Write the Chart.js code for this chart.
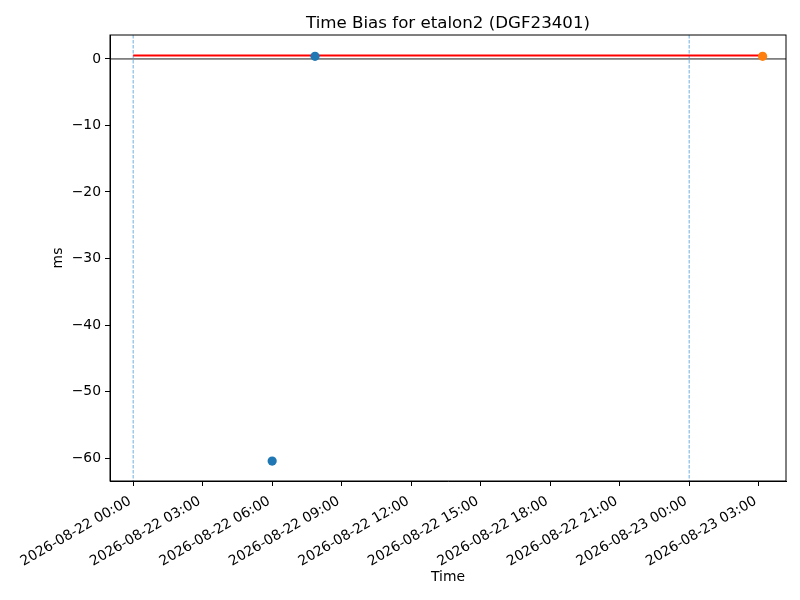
<!DOCTYPE html>
<html>
<head>
<meta charset="utf-8">
<script src="https://cdn.jsdelivr.net/npm/chart.js@4"></script>
<style>
  html, body { margin: 0; padding: 0; background: #fff; }
  #wrap { width: 800px; height: 600px; }
</style>
</head>
<body>
<div id="wrap"><canvas id="myChart" width="800" height="600"></canvas></div>
<script>
// hours since 2026-08-22 00:00
const tickHours = [0, 3, 6, 9, 12, 15, 18, 21, 24, 27];
const tickLabels = ["2026-08-22 00:00", "2026-08-22 03:00", "2026-08-22 06:00", "2026-08-22 09:00",
  "2026-08-22 12:00", "2026-08-22 15:00", "2026-08-22 18:00", "2026-08-22 21:00",
  "2026-08-23 00:00", "2026-08-23 03:00"];
const yTicks = [-60, -50, -40, -30, -20, -10, 0];

const blueHours = [6.0, 7.85];
const blueValues = [-60.45, 0.4];
const orangeHours = [27.17];
const orangeValues = [0.4];
const meanHours = [0, 27.17];
const meanValues = [0.5, 0.5];
const dayLines = [0, 24];

const xRange = [-1.0, 28.18];
const yRange = [-63.45, 3.6];

const font = "'DejaVu Sans', sans-serif";

function pts(xs, ys) {
  return xs.map((x, i) => ({ x: x, y: ys[i] }));
}

// axhline at 0 and dashed day boundaries, title centred over the plot area
const refLines = {
  id: "refLines",
  afterLayout(chart) {
    const t = chart.titleBlock;
    if (t) {
      t.left = chart.chartArea.left;
      t.right = chart.chartArea.right;
      t.width = t.right - t.left;
    }
  },
  beforeDatasetsDraw(chart) {
    const { ctx, chartArea, scales } = chart;
    ctx.save();
    ctx.strokeStyle = "#000";
    ctx.lineWidth = 0.9;
    const y0 = scales.y.getPixelForValue(0);
    ctx.beginPath();
    ctx.moveTo(chartArea.left, y0);
    ctx.lineTo(chartArea.right, y0);
    ctx.stroke();

    ctx.strokeStyle = "#4a9ad6";
    ctx.lineWidth = 0.8;
    ctx.setLineDash([3.5, 1.5]);
    dayLines.forEach(h => {
      const x = scales.x.getPixelForValue(h);
      ctx.beginPath();
      ctx.moveTo(x, chartArea.top);
      ctx.lineTo(x, chartArea.bottom);
      ctx.stroke();
    });
    ctx.restore();
  },
  afterDraw(chart) {
    const { ctx, chartArea } = chart;
    ctx.save();
    ctx.strokeStyle = "#000";
    ctx.lineWidth = 1;
    ctx.strokeRect(chartArea.left, chartArea.top, chartArea.right - chartArea.left, chartArea.bottom - chartArea.top);
    ctx.restore();
  }
};

const ctx = document.getElementById("myChart");

new Chart(ctx, {
  type: "scatter",
  data: {
    datasets: [
      {
        type: "line",
        data: pts(meanHours, meanValues),
        borderColor: "#ff0000",
        borderWidth: 2,
        pointRadius: 0,
        order: 3
      },
      {
        data: pts(blueHours, blueValues),
        backgroundColor: "#1f77b4",
        borderWidth: 0,
        pointRadius: 4.6,
        order: 2
      },
      {
        data: pts(orangeHours, orangeValues),
        backgroundColor: "#ff7f0e",
        borderWidth: 0,
        pointRadius: 4.6,
        order: 1
      }
    ]
  },
  options: {
    responsive: false,
    animation: false,
    layout: { padding: { left: 0, right: 14, top: 0, bottom: 0 } },
    plugins: {
      legend: { display: false },
      tooltip: { enabled: false },
      title: {
        display: true,
        text: "Time Bias for etalon2 (DGF23401)",
        color: "#000",
        font: { family: font, size: 16.67, weight: "normal" },
        padding: { top: 14, bottom: 1 }
      }
    },
    scales: {
      x: {
        type: "linear",
        min: xRange[0],
        max: xRange[1],
        afterBuildTicks: s => { s.ticks = tickHours.map(v => ({ value: v })); },
        afterFit: s => { s.height = 119; s.paddingLeft = 0; s.paddingRight = 0; },
        grid: { drawOnChartArea: false, color: "#000", tickLength: 5, tickWidth: 1 },
        border: { color: "#000", width: 1 },
        ticks: {
          color: "#000",
          font: { family: font, size: 13.9 },
          padding: 7,
          labelOffset: -3,
          minRotation: 30,
          maxRotation: 30,
          autoSkip: false,
          callback: v => tickLabels[tickHours.indexOf(v)]
        },
        title: {
          display: true,
          text: "Time",
          color: "#000",
          font: { family: font, size: 13.9 },
          padding: { top: 0, bottom: 14 }
        }
      },
      y: {
        min: yRange[0],
        max: yRange[1],
        afterBuildTicks: s => { s.ticks = yTicks.map(v => ({ value: v })); },
        afterFit: s => { s.width = 110; s.paddingTop = 0; s.paddingBottom = 0; },
        grid: { drawOnChartArea: false, color: "#000", tickLength: 5, tickWidth: 1 },
        border: { color: "#000", width: 1 },
        ticks: {
          color: "#000",
          font: { family: font, size: 13.9 },
          padding: 4,
          callback: v => (v < 0 ? "\u2212" + Math.abs(v) : String(v))
        },
        title: {
          display: true,
          text: "ms",
          color: "#000",
          font: { family: font, size: 13.9 },
          padding: { top: 50, bottom: 0 }
        }
      }
    }
  },
  plugins: [refLines]
});
</script>
</body>
</html>
